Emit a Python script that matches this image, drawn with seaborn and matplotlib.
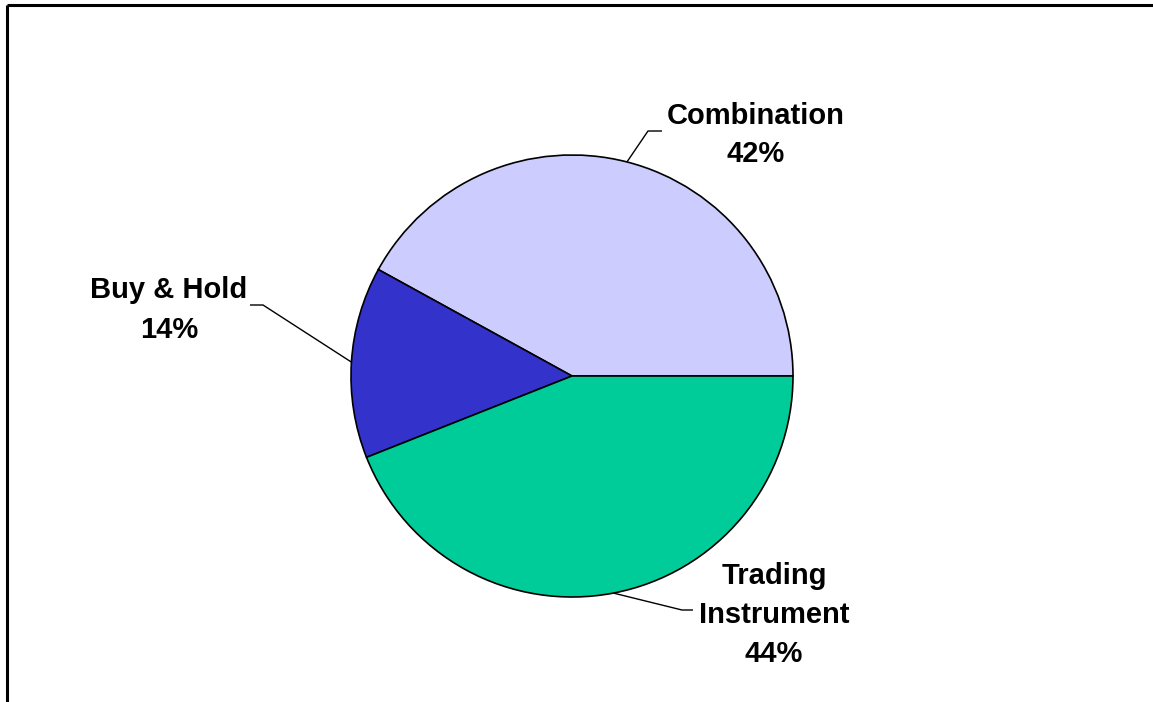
import numpy as np
import matplotlib
matplotlib.use("Agg")
import matplotlib.pyplot as plt
import seaborn as sns

# Share of respondents by strategy
categories = ["Combination", "Buy & Hold", "Trading Instrument"]
shares = [42, 14, 44]
label_texts = ["Combination\n42%", "Buy & Hold\n14%", "Trading\nInstrument\n44%"]
colors = ["#CCCCFF", "#3333CC", "#00CC99"]

sns.set_theme(style="white")
plt.rcParams["font.family"] = ["Liberation Sans", "DejaVu Sans"]

W, H = 1153, 702
fig = plt.figure(figsize=(W / 100, H / 100), dpi=100)
ax = fig.add_axes([0, 0, 1, 1])

center = (572, H - 376)
radius = 221

wedges, _ = ax.pie(
    shares,
    colors=colors,
    startangle=0,
    counterclock=True,
    center=center,
    radius=radius,
    wedgeprops=dict(edgecolor="black", linewidth=1.2),
    frame=True,
)
ax.set_xlim(0, W)
ax.set_ylim(0, H)
ax.set_aspect("equal")
ax.set_axis_off()

# label blocks: (text centre), leader elbow, leader end
label_pos = [(756, H - 135), (169, H - 310), (774, H - 615)]
elbows = [((648, H - 131), (662, H - 131)),
          ((263, H - 305), (250, H - 305)),
          ((682, H - 610), (693, H - 610))]

for w, txt, pos, (elb, end) in zip(wedges, label_texts, label_pos, elbows):
    mid = np.deg2rad((w.theta1 + w.theta2) / 2)
    edge = (center[0] + radius * np.cos(mid), center[1] + radius * np.sin(mid))
    ax.plot([edge[0], elb[0], end[0]], [edge[1], elb[1], end[1]],
            color="black", lw=1.0, solid_capstyle="butt")
    ax.text(pos[0], pos[1], txt, ha="center", va="center",
            fontsize=21, fontweight="bold", linespacing=1.5, color="black")

# outer chart frame (top and left edges)
ax.plot([7, W], [H - 5, H - 5], color="black", lw=2.2, solid_capstyle="butt")
ax.plot([7, 7], [H - 5, 0], color="black", lw=2.2, solid_capstyle="butt")

fig.savefig("out.png", dpi=100, facecolor="white")
